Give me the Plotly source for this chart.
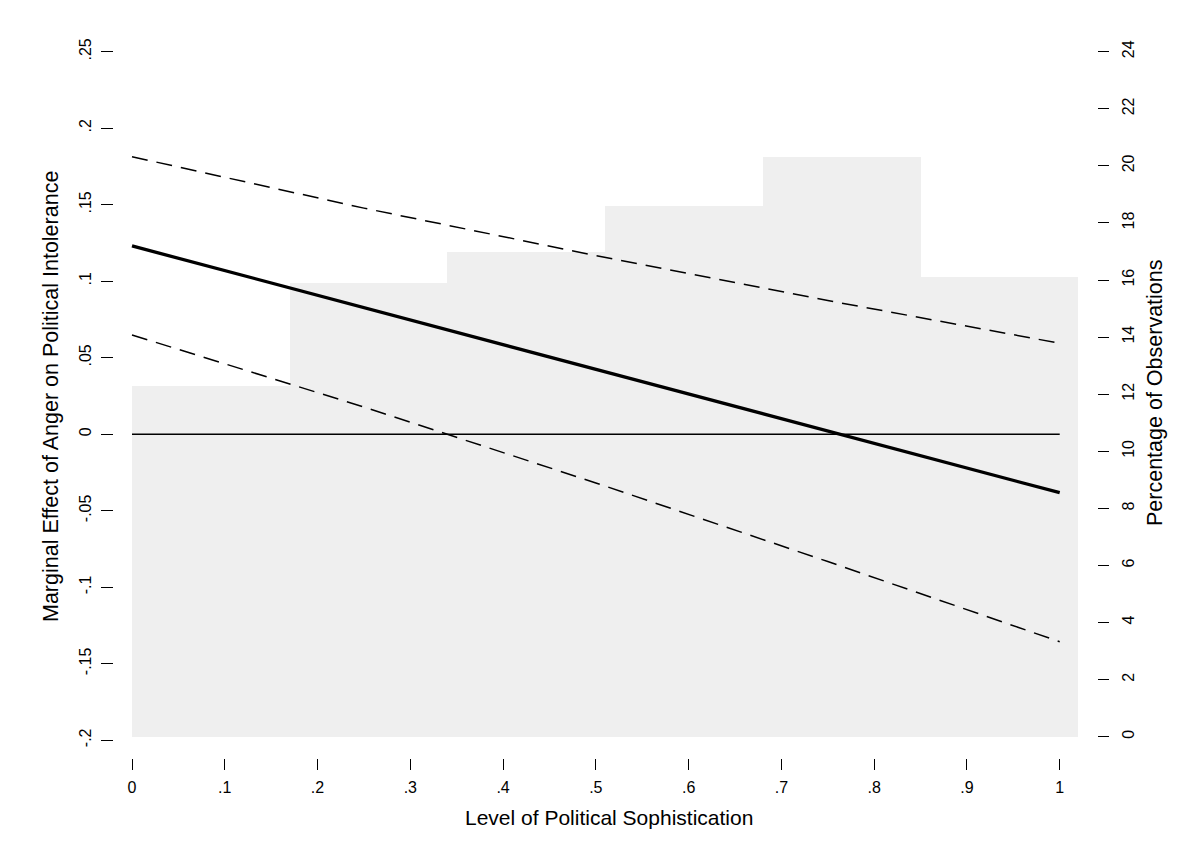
import plotly.graph_objects as go

# ---- data ----
sophistication = [0.0, 1.0]
marginal_effect = [0.1231, -0.0382]
zero_ref = [0.0, 0.0]

ci_grid = [0.0, 0.25, 0.5, 0.75, 1.0]
upper_ci = [0.1814, 0.1478, 0.1168, 0.0874, 0.0595]
lower_ci = [0.0649, 0.0178, -0.0318, -0.0832, -0.1356]

bin_edges = [0.0, 0.17, 0.34, 0.51, 0.68, 0.85, 1.02]
pct_obs = [12.3, 15.9, 17.0, 18.6, 20.3, 16.1]

x_ticks = [0, 0.1, 0.2, 0.3, 0.4, 0.5, 0.6, 0.7, 0.8, 0.9, 1.0]
x_ticktext = ["0", ".1", ".2", ".3", ".4", ".5", ".6", ".7", ".8", ".9", "1"]
left_ticks = [-0.2, -0.15, -0.1, -0.05, 0, 0.05, 0.1, 0.15, 0.2, 0.25]
left_ticktext = ["-.2", "-.15", "-.1", "-.05", "0", ".05", ".1", ".15", ".2", ".25"]
right_ticks = [0, 2, 4, 6, 8, 10, 12, 14, 16, 18, 20, 22, 24]
right_ticktext = [str(v) for v in right_ticks]

bin_centers = [(a + b) / 2 for a, b in zip(bin_edges[:-1], bin_edges[1:])]
bin_widths = [b - a for a, b in zip(bin_edges[:-1], bin_edges[1:])]

FONT = "Liberation Sans, Arial, sans-serif"

fig = go.Figure()

# histogram (base subplot, right axis)
fig.add_trace(go.Bar(
    x=bin_centers, y=pct_obs, width=bin_widths,
    marker=dict(color="#efefef", line=dict(width=0)),
    yaxis="y", showlegend=False, hoverinfo="skip",
))

# lines on overlay (left axis)
fig.add_trace(go.Scatter(
    x=sophistication, y=zero_ref, mode="lines",
    line=dict(color="black", width=1.4), yaxis="y2", showlegend=False,
))
fig.add_trace(go.Scatter(
    x=ci_grid, y=upper_ci, mode="lines",
    line=dict(color="black", width=1.5, dash="16px,9px"), yaxis="y2", showlegend=False,
))
fig.add_trace(go.Scatter(
    x=ci_grid, y=lower_ci, mode="lines",
    line=dict(color="black", width=1.5, dash="16px,9px"), yaxis="y2", showlegend=False,
))
fig.add_trace(go.Scatter(
    x=sophistication, y=marginal_effect, mode="lines",
    line=dict(color="black", width=3.3), yaxis="y2", showlegend=False,
))

OFF = 8  # page body margin offset in the browser
W, H = 1194, 866
L, R, T, B = 114 - OFF, 97 + OFF, 40 - OFF, 108 + OFF
pw, ph = W - L - R, H - T - B

def px(xp):
    return (xp - OFF - L) / pw

def py(yp):
    return (H - B - (yp - OFF)) / ph

axis_common = dict(
    showgrid=False, zeroline=False, showline=False,
    ticks="outside", tickcolor="black", tickwidth=1.3,
    tickfont=dict(family=FONT, size=16, color="black"),
    automargin=False,
)

fig.update_layout(
    width=W, height=H,
    margin=dict(l=L, r=R, t=T, b=B, autoexpand=False),
    paper_bgcolor="white", plot_bgcolor="white",
    bargap=0,
    showlegend=False,
    xaxis=dict(
        range=[-0.0194, 1.0402], tickvals=x_ticks, ticktext=x_ticktext,
        ticklen=11, ticklabelstandoff=4, **axis_common,
    ),
    yaxis=dict(
        range=[-0.746, 24.41], side="right", tickvals=right_ticks,
        ticktext=right_ticktext, tickangle=-90, ticklen=11,
        ticklabelstandoff=6, **axis_common,
    ),
    yaxis2=dict(
        range=[-0.2116, 0.2577], side="left", overlaying="y",
        tickvals=left_ticks, ticktext=left_ticktext, tickangle=-90,
        ticklen=12, ticklabelstandoff=4, **axis_common,
    ),
    annotations=[
        dict(text="Level of Political Sophistication", xref="paper", yref="paper",
             x=px(609), y=py(817), xanchor="center", yanchor="middle",
             showarrow=False, font=dict(family=FONT, size=21, color="black")),
        dict(text="Marginal Effect of Anger on Political Intolerance", xref="paper",
             yref="paper", x=px(51), y=py(397), xanchor="center", yanchor="middle",
             textangle=-90, showarrow=False,
             font=dict(family=FONT, size=21.5, color="black")),
        dict(text="Percentage of Observations", xref="paper", yref="paper",
             x=px(1155), y=py(393), xanchor="center", yanchor="middle",
             textangle=-90, showarrow=False,
             font=dict(family=FONT, size=21.5, color="black")),
    ],
)

fig.write_html("out.html")
